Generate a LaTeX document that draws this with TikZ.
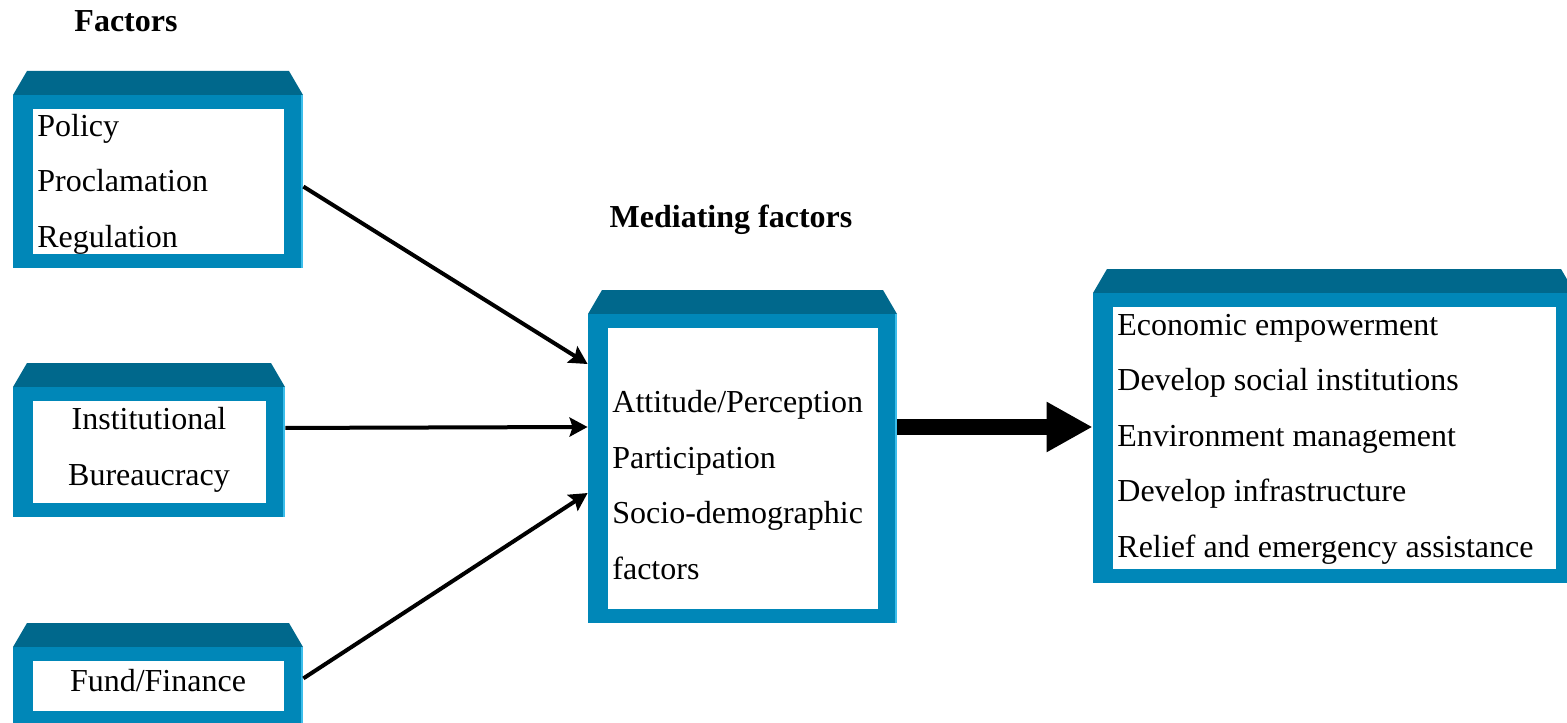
\documentclass[tikz,border=0pt]{standalone}
\usepackage{fontspec}
\setmainfont{Liberation Serif}
\usetikzlibrary{arrows.meta,fit}

\definecolor{faceblue}{RGB}{0,135,184}
\definecolor{bevelblue}{RGB}{0,104,140}
\definecolor{edgeblue}{RGB}{60,190,235}

\tikzset{
  face/.style={fill=faceblue, draw=none, inner sep=0pt},
  itemtext/.style={font=\fontsize{16}{27.75}\selectfont, inner sep=0pt},
  heading/.style={font=\fontsize{16}{19}\selectfont\bfseries, inner sep=0pt},
  flow/.style={line width=2pt, -{Stealth[length=9pt, width=9.5pt, inset=1.5pt]}},
  bigflow/.style={line width=8pt, -{Triangle[length=23pt, width=23.5pt]}}
}

% panel: name, left, top, right, bottom of the front face (pixel units)
\newcommand{\bluepanel}[5]{%
  \fill[bevelblue] (#2,#3) -- (#2+14,#3-24) -- (#4-14,#3-24) -- (#4,#3) -- cycle;
  \node[face, fit={(#2,#3) (#4,#5)}] (#1) {};
  \draw[edgeblue, line width=0.8pt] (#4-0.8,#3) -- (#4-0.8,#5);
  \fill[white] (#2+20,#3+14) rectangle (#4-19,#5-14);
}

\begin{document}
\begin{tikzpicture}[x=0.5pt, y=-0.5pt]
  \useasboundingbox (0,0) rectangle (1567,722);

  % Draw the panels
  \bluepanel{policy}{13}{95}{303}{268}
  \bluepanel{bureau}{13}{387}{285}{517}
  \bluepanel{fund}{13}{647}{303}{725}
  \bluepanel{mediate}{588}{314}{897}{623}
  \bluepanel{outcome}{1093}{293}{1575}{583}

  % Headings
  \node[heading] (factorstitle) at (126,21) {Factors};
  \node[heading] (mediatetitle) at (731,220) {Mediating factors};

  % Panel texts
  \node[itemtext, align=left, anchor=west] (policytext) at (37,184)
    {Policy\\Proclamation\\Regulation};
  \node[itemtext, align=center] (bureautext) at (149,450)
    {Institutional\\Bureaucracy};
  \node[itemtext] (fundtext) at (158,681) {Fund/Finance};
  \node[itemtext, align=left, anchor=west] (mediatetext) at (612,485)
    {Attitude/Perception\\Participation\\Socio-demographic\\factors};
  \node[itemtext, align=left, anchor=west] (outcometext) at (1117,439)
    {Economic empowerment\\Develop social institutions\\Environment management\\Develop infrastructure\\Relief and emergency assistance};

  % Draw the arrows
  \draw[flow] (policy.-2) -- (mediate.146);
  \draw[flow] (bureau.10) -- (mediate.165);
  \draw[flow] (fund.3) -- (mediate.189);
  \draw[bigflow] (mediate.15) -- (mediate.15 -| outcome.west);
\end{tikzpicture}
\end{document}
